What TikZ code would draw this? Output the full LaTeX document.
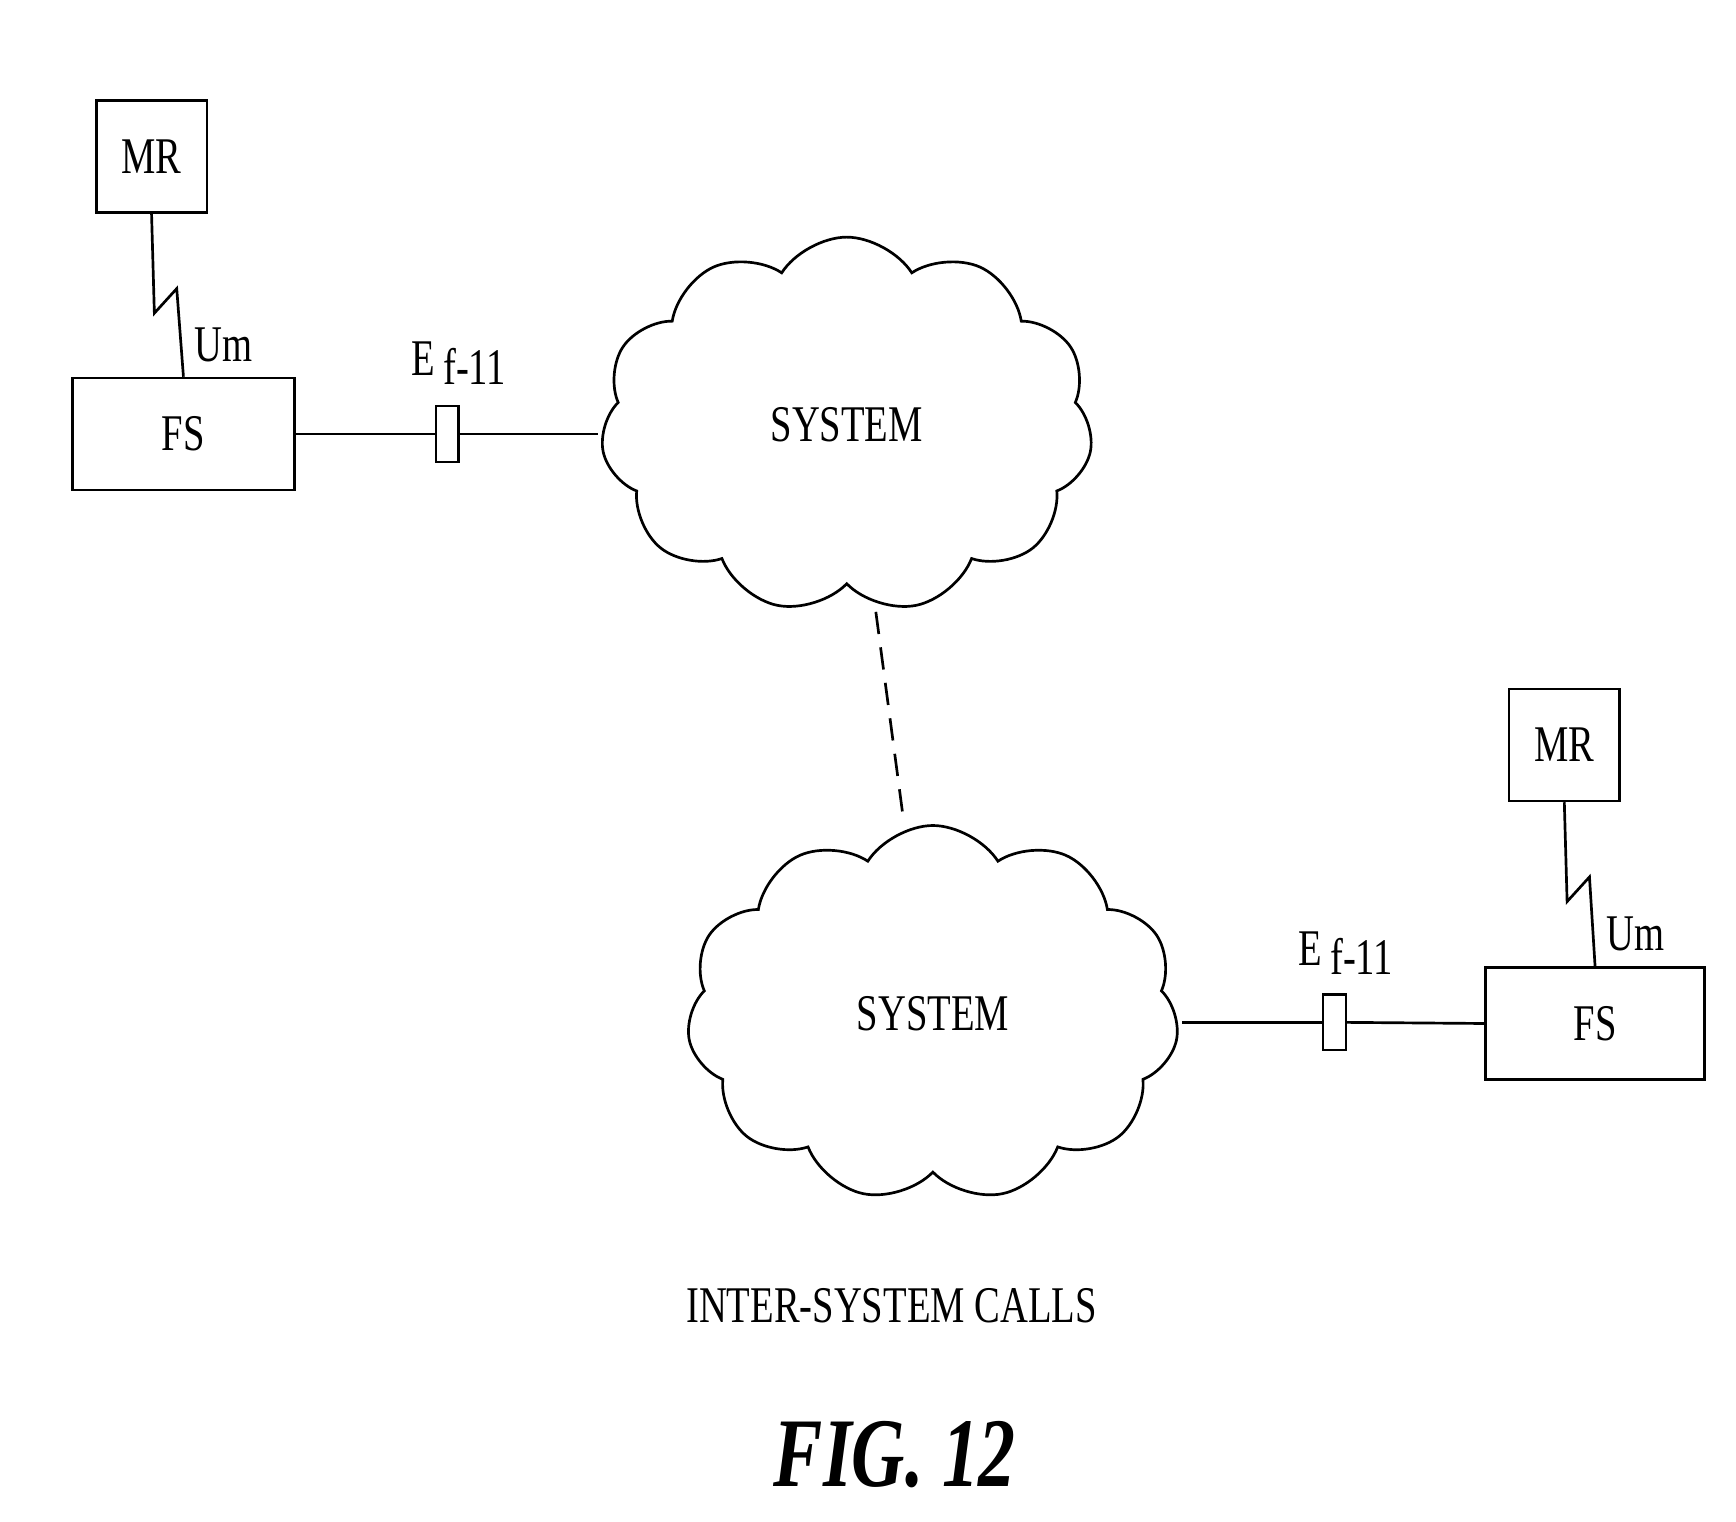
\documentclass[tikz,border=0pt]{standalone}
\usepackage{fontspec}
\setmainfont{Liberation Serif}[FakeStretch=0.75]
\usetikzlibrary{shapes.symbols}
\begin{document}
\begin{tikzpicture}[x=0.5pt,y=-0.5pt,line width=1.2pt,
  box/.style={draw,minimum width=#1,inner sep=0pt,font=\fontsize{23}{28}\selectfont},
  lbl/.style={font=\fontsize{23}{28}\selectfont,inner sep=0pt},
  cl/.style={cloud,draw,cloud puffs=11,cloud puff arc=115,aspect=1.3,minimum width=220pt,minimum height=168pt,inner sep=0pt,font=\fontsize{23}{28}\selectfont}]
\useasboundingbox (0,0) rectangle (1552,1360);
\node[box=49.5pt,minimum height=50pt] (mr1) at (135.5,140) {MR};
\node[box=99pt,minimum height=50pt] (fs1) at (164,388) {FS};
\node[box=49.5pt,minimum height=50pt] (mr2) at (1398.5,666) {MR};
\node[box=98pt,minimum height=50pt] (fs2) at (1426,915) {FS};
\node[cl] (c1) at (757,380) {SYSTEM};
\node[cl] (c2) at (834,906) {SYSTEM};
\node[draw,line width=1pt,minimum width=10pt,minimum height=25pt,inner sep=0pt] (k1) at (400,388) {};
\node[draw,line width=1pt,minimum width=10pt,minimum height=25pt,inner sep=0pt] (k2) at (1193,914) {};
\coordinate (z1a) at (138,280); \coordinate (z1b) at (158,258);
\coordinate (z2a) at (1401,806); \coordinate (z2b) at (1421,784);
\draw (mr1.south) -- (z1a) -- (z1b) -- (fs1.north);
\draw (mr2.south) -- (z2a) -- (z2b) -- (fs2.north);
\node[lbl] (um1) at (200,308) {Um};
\node[lbl] (um2) at (1462,835) {Um};
\coordinate (c1w) at (535,388); \coordinate (c2e) at (1057,914);
\draw (fs1.east) -- (k1.west); \draw (k1.east) -- (c1w);
\draw (c2e) -- (k2.west); \draw (k2.east) -- (fs2.west);
\node[lbl] (e1) at (410,325) {E\,\raisebox{-4pt}{f-11}};
\node[lbl] (e2) at (1203,852) {E\,\raisebox{-4pt}{f-11}};
\coordinate (d1) at (783,547); \coordinate (d2) at (808,735);
\draw[dash pattern=on 10pt off 6pt] (d1) -- (d2);
\node[lbl] (t) at (797,1167) {INTER-SYSTEM CALLS};
\node[lbl,font=\fontsize{44}{50}\selectfont\bfseries\itshape] (fig) at (800,1300) {FIG. 12};
\end{tikzpicture}
\end{document}
